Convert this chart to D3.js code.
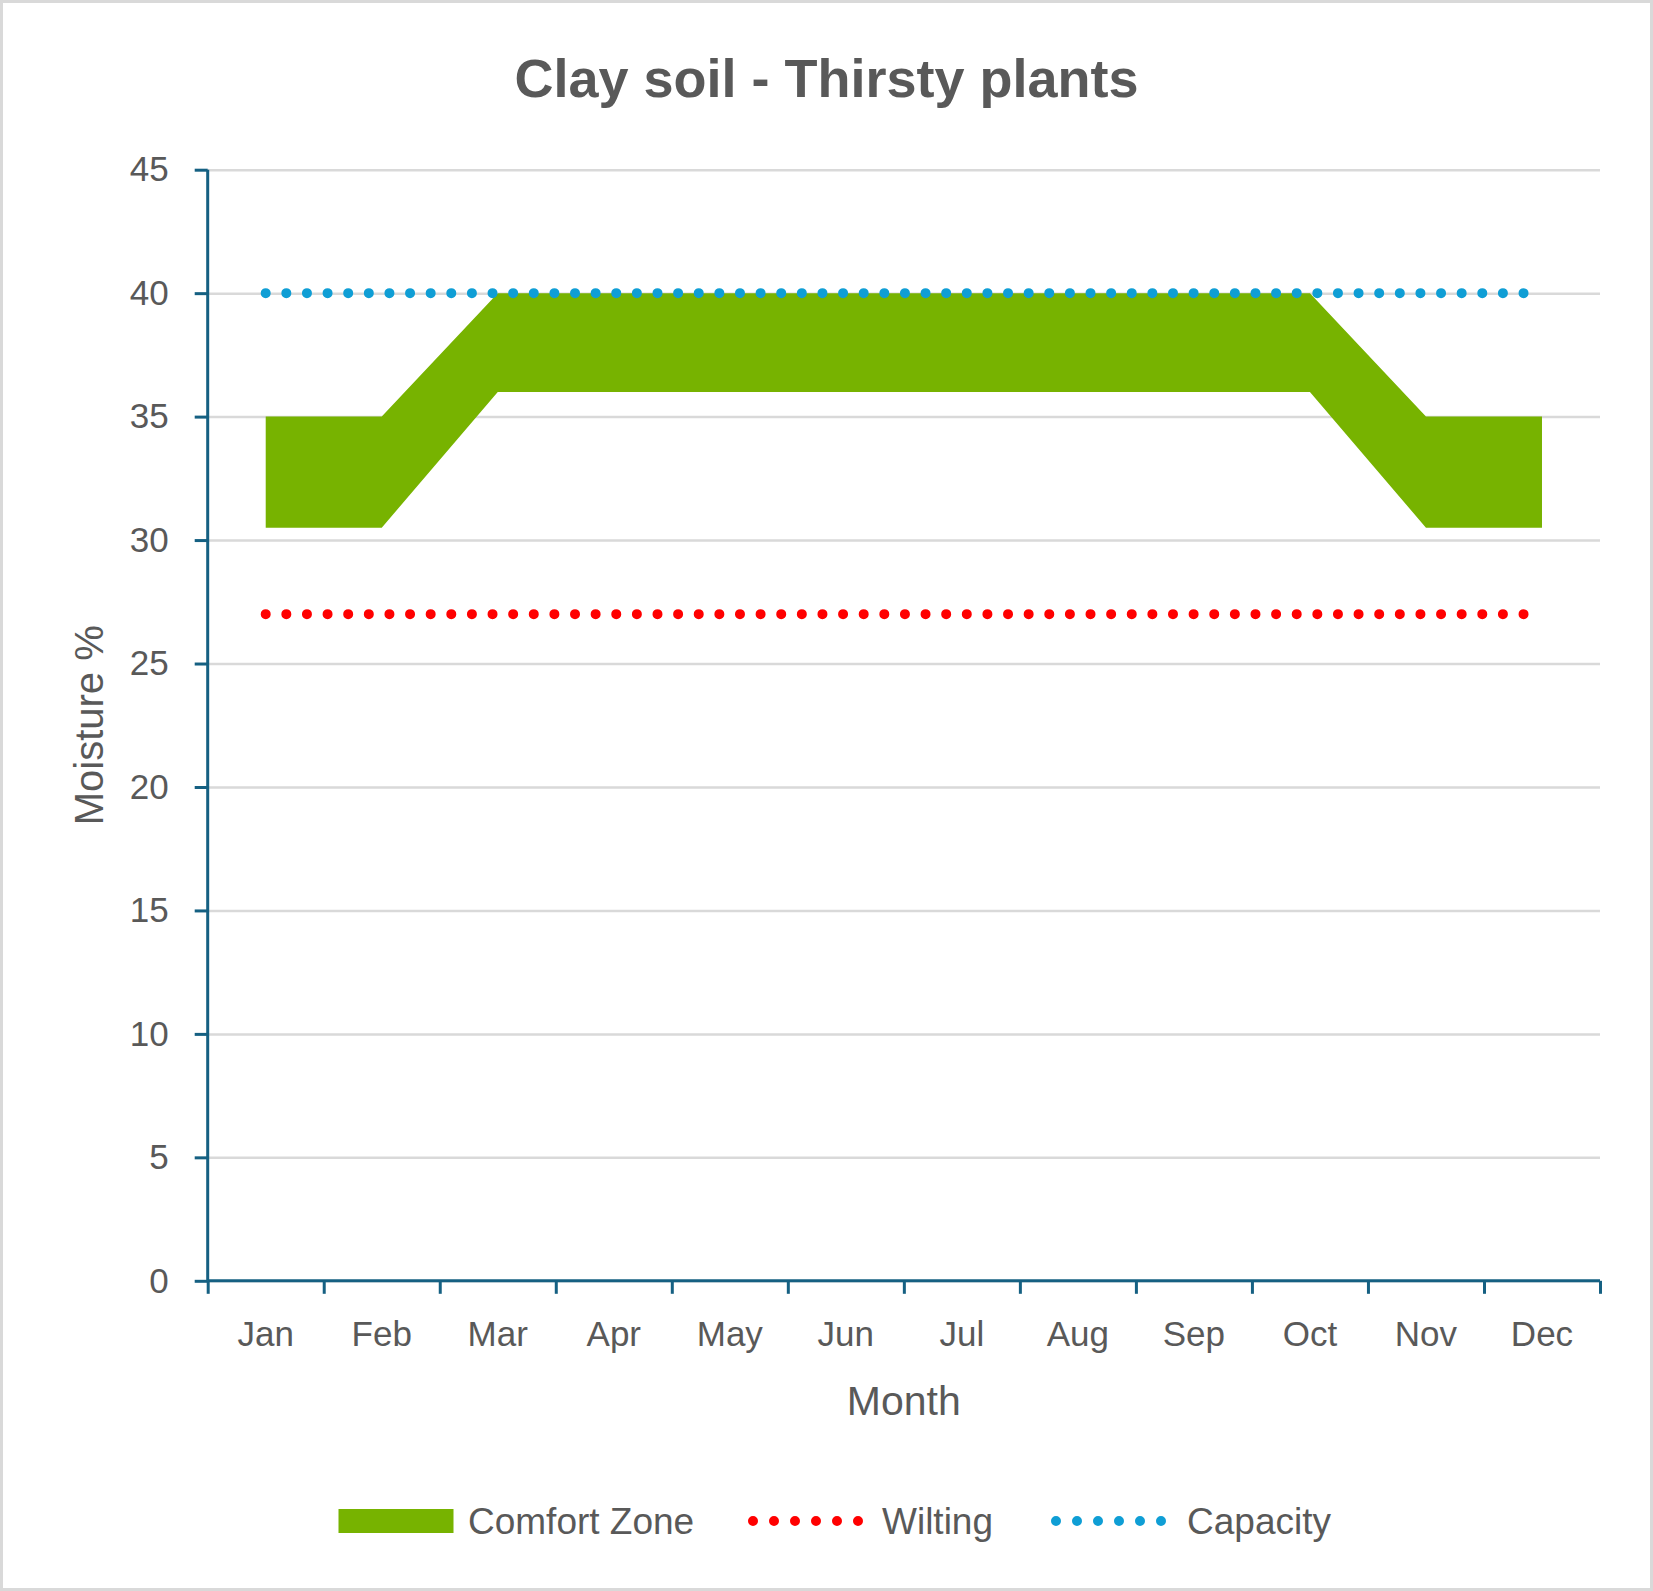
<!DOCTYPE html>
<html>
<head>
<meta charset="utf-8">
<script src="https://cdn.jsdelivr.net/npm/d3@7"></script>
<style>
  html, body { margin: 0; padding: 0; background: #fff; }
  svg { display: block; }
</style>
</head>
<body>
<svg id="chart"></svg>
<script>
// values
var months = ["Jan", "Feb", "Mar", "Apr", "May", "Jun", "Jul", "Aug", "Sep", "Oct", "Nov", "Dec"];
var comfortLow  = [30.5, 30.5, 36, 36, 36, 36, 36, 36, 36, 36, 30.5, 30.5];
var comfortHigh = [35, 35, 40, 40, 40, 40, 40, 40, 40, 40, 35, 35];
var wilting  = [27, 27, 27, 27, 27, 27, 27, 27, 27, 27, 27, 27];
var capacity = [40, 40, 40, 40, 40, 40, 40, 40, 40, 40, 40, 40];
var yTicks = [0, 5, 10, 15, 20, 25, 30, 35, 40, 45];
var legendNames = ["Comfort Zone", "Wilting", "Capacity"];

var dimensions = {
    width: 1653,
    height: 1591,
    margin: { top: 169.7, bottom: 310.2, left: 207.7, right: 53 }
}
var font = "'Liberation Sans', Arial, sans-serif";
var textColor = "#595959";
var axisColor = "#156082";
var gridColor = "#d9d9d9";
var colors = { comfort: "#77b300", wilting: "#ff0000", capacity: "#0f9ed5" };

var svg = d3.select("#chart")
    .attr("width", dimensions.width)
    .attr("height", dimensions.height)
    .style("font-family", font);

// outer frame
svg.append("rect")
    .attr("x", 1.5).attr("y", 1.5)
    .attr("width", dimensions.width - 3).attr("height", dimensions.height - 3)
    .attr("fill", "#fff")
    .attr("stroke", gridColor)
    .attr("stroke-width", 3);

var plotLeft = dimensions.margin.left;
var plotRight = dimensions.width - dimensions.margin.right;
var plotTop = dimensions.margin.top;
var plotBottom = dimensions.height - dimensions.margin.bottom;

var xScale = d3.scaleBand().domain(months).range([plotLeft, plotRight]).padding(0);
var xEdges = d3.scaleLinear().domain([0, months.length]).range([plotLeft, plotRight]);
var yScale = d3.scaleLinear().domain([0, 45]).range([plotBottom, plotTop]);
var xMid = m => xScale(m) + xScale.bandwidth() / 2;

// gridlines
svg.append("g")
    .attr("transform", `translate(${plotLeft},0)`)
    .call(d3.axisLeft(yScale).tickValues(yTicks).tickSize(-(plotRight - plotLeft)).tickFormat(""))
    .call(g => g.select(".domain").remove())
    .call(g => g.selectAll("line").attr("stroke", gridColor).attr("stroke-width", 2.5));

// comfort zone band
var area = d3.area()
    .x((d, i) => xMid(months[i]))
    .y0((d, i) => yScale(comfortLow[i]))
    .y1((d, i) => yScale(comfortHigh[i]));
svg.append("path")
    .datum(months)
    .attr("d", area)
    .attr("fill", colors.comfort);

// dotted lines
function dottedLine(values, color) {
    var line = d3.line()
        .x((d, i) => xMid(months[i]))
        .y(d => yScale(d));
    svg.append("path")
        .datum(values)
        .attr("d", line)
        .attr("fill", "none")
        .attr("stroke", color)
        .attr("stroke-width", 10)
        .attr("stroke-linecap", "round")
        .attr("stroke-dasharray", "0 20.62");
}
dottedLine(wilting, colors.wilting);
dottedLine(capacity, colors.capacity);

// y axis
svg.append("g")
    .attr("transform", `translate(${plotLeft},0)`)
    .call(d3.axisLeft(yScale).tickValues(yTicks).tickSize(13).tickPadding(26))
    .call(g => g.select(".domain").attr("stroke", axisColor).attr("stroke-width", 3)
        .attr("d", `M0,${plotTop}V${plotBottom}`))
    .call(g => g.selectAll(".tick line").attr("stroke", axisColor).attr("stroke-width", 3))
    .call(g => g.selectAll("text").attr("fill", textColor).style("font-size", "35px").style("font-family", font));

// x axis: ticks on category edges
svg.append("g")
    .attr("transform", `translate(0,${plotBottom})`)
    .call(d3.axisBottom(xEdges).ticks(months.length).tickSize(13).tickFormat(""))
    .call(g => g.select(".domain").attr("stroke", axisColor).attr("stroke-width", 3)
        .attr("d", `M${plotLeft},0H${plotRight}`))
    .call(g => g.selectAll(".tick line").attr("stroke", axisColor).attr("stroke-width", 3));

// x labels at category centres
svg.append("g")
    .attr("transform", `translate(0,${plotBottom})`)
    .call(d3.axisBottom(xScale).tickSize(0).tickPadding(40))
    .call(g => g.select(".domain").remove())
    .call(g => g.selectAll("text").attr("fill", textColor).style("font-size", "35px").style("font-family", font));

// titles
svg.append("text")
    .attr("x", dimensions.width / 2)
    .attr("y", 97)
    .attr("text-anchor", "middle")
    .attr("fill", textColor)
    .style("font-size", "54px")
    .style("font-weight", "bold")
    .text("Clay soil - Thirsty plants");

svg.append("text")
    .attr("x", (plotLeft + plotRight) / 2)
    .attr("y", 1415)
    .attr("text-anchor", "middle")
    .attr("fill", textColor)
    .style("font-size", "41px")
    .text("Month");

svg.append("text")
    .attr("transform", `translate(103,${(plotTop + plotBottom) / 2}) rotate(-90)`)
    .attr("text-anchor", "middle")
    .attr("fill", textColor)
    .style("font-size", "40px")
    .text("Moisture %");

// legend
var legendY = 1521;
var legend = svg.append("g");
legend.append("rect")
    .attr("x", 338.5).attr("y", legendY - 12)
    .attr("width", 115).attr("height", 24)
    .attr("fill", colors.comfort);
[[753, 858, colors.wilting], [1056, 1162, colors.capacity]].forEach(s => {
    legend.append("line")
        .attr("x1", s[0]).attr("x2", s[1] + 1)
        .attr("y1", legendY).attr("y2", legendY)
        .attr("stroke", s[2])
        .attr("stroke-width", 10)
        .attr("stroke-linecap", "round")
        .attr("stroke-dasharray", "0 21");
});
legend.selectAll("text")
    .data(legendNames)
    .enter()
    .append("text")
    .attr("x", (d, i) => [468, 882, 1187][i])
    .attr("y", legendY)
    .attr("dy", "0.35em")
    .attr("fill", textColor)
    .style("font-size", "37px")
    .text(d => d);
</script>
</body>
</html>
